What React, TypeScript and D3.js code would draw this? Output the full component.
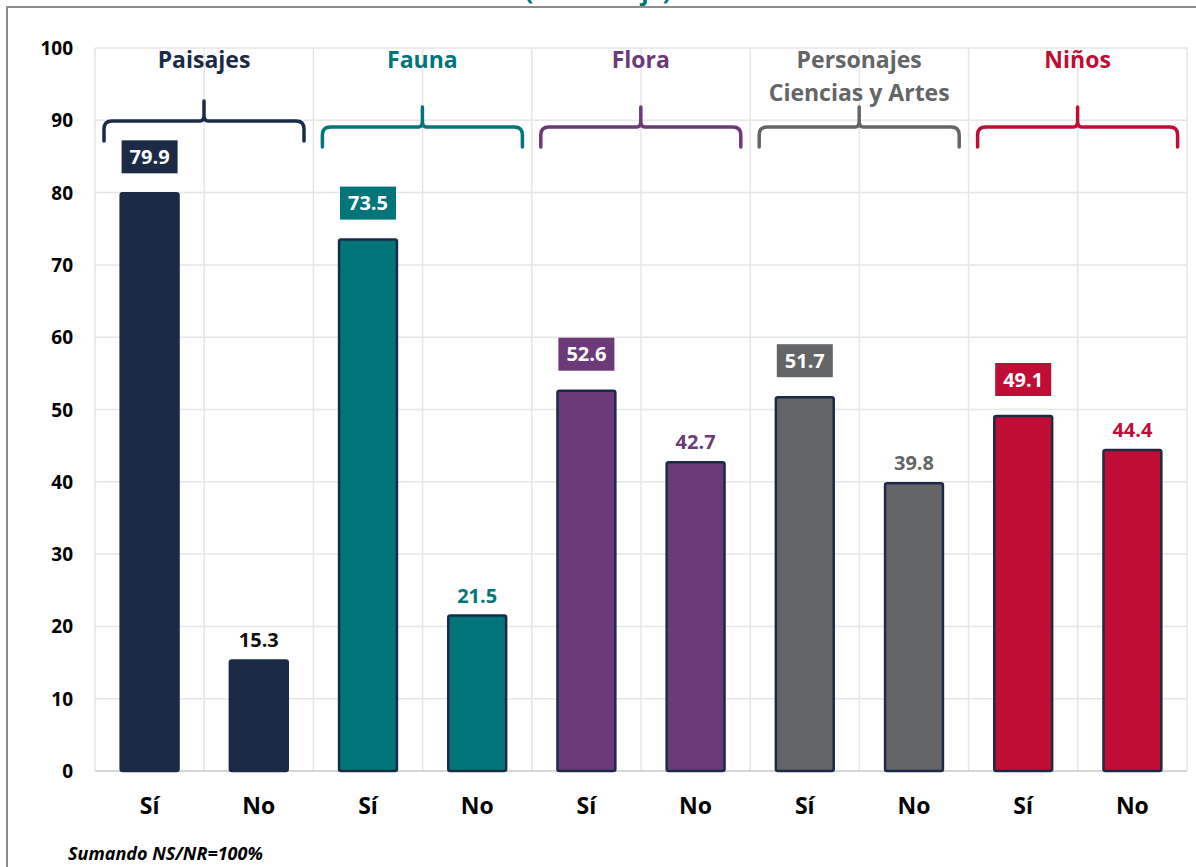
import { useEffect, useRef } from 'react';
import * as d3 from 'd3';

// datos
const groups = ['Paisajes', 'Fauna', 'Flora', 'Personajes Ciencias y Artes', 'Niños'];
const groupLines = [['Paisajes'], ['Fauna'], ['Flora'], ['Personajes', 'Ciencias y Artes'], ['Niños']];
const answers = ['Sí', 'No'];
const siValues = [79.9, 73.5, 52.6, 51.7, 49.1];
const noValues = [15.3, 21.5, 42.7, 39.8, 44.4];
const groupColors = ['#1B2B47', '#00757A', '#6C3A78', '#646567', '#C00D36'];
const yTicks = [0, 10, 20, 30, 40, 50, 60, 70, 80, 90, 100];

const FONT = '"Open Sans", "Noto Sans", sans-serif';

const App = () => {
  const svgRef = useRef<SVGSVGElement | null>(null);

  useEffect(() => {
    document.body.style.margin = '0';
    const width = 1196;
    const height = 867;
    const margin = { top: 48, right: 9, bottom: 96, left: 95 };

    const svg = d3.select(svgRef.current);
    svg.selectAll('*').remove();
    svg.attr('width', width).attr('height', height);

    svg.append('rect').attr('width', width).attr('height', height).attr('fill', '#fff');

    // marco
    svg.append('path')
      .attr('d', `M7,${height + 5} L7,7 L${width + 5},7`)
      .attr('fill', 'none')
      .attr('stroke', '#8c8c8c')
      .attr('stroke-width', 2);

    // titulo (cortado arriba como en el original)
    svg.append('text')
      .attr('x', 598)
      .attr('y', 0)
      .attr('text-anchor', 'middle')
      .attr('font-family', FONT)
      .attr('font-weight', 700)
      .attr('font-size', 24)
      .attr('fill', '#00757A')
      .text('(Porcentaje)');

    const x0 = d3.scaleBand<string>()
      .domain(groups)
      .range([margin.left, width - margin.right])
      .padding(0);

    const x1 = d3.scaleBand<string>()
      .domain(answers)
      .range([0, x0.bandwidth()])
      .paddingInner(0.47)
      .paddingOuter(0.235);

    const y = d3.scaleLinear()
      .domain([0, 100])
      .range([height - margin.bottom, margin.top]);

    const step = x1.step();
    const plotLeft = margin.left;
    const plotRight = width - margin.right;

    // rejilla
    const grid = svg.append('g');
    grid.selectAll('line.h')
      .data(yTicks.slice(1))
      .enter()
      .append('line')
      .attr('x1', plotLeft)
      .attr('x2', plotRight)
      .attr('y1', d => y(d))
      .attr('y2', d => y(d))
      .attr('stroke', '#e6e6e6')
      .attr('stroke-width', 1.5);

    const vLines = d3.range(0, groups.length * answers.length + 1).map(i => plotLeft + i * step);
    grid.selectAll('line.v')
      .data(vLines)
      .enter()
      .append('line')
      .attr('x1', d => d)
      .attr('x2', d => d)
      .attr('y1', y(100))
      .attr('y2', y(0))
      .attr('stroke', '#e6e6e6')
      .attr('stroke-width', 1.5);

    // eje x
    svg.append('line')
      .attr('x1', plotLeft)
      .attr('x2', plotRight)
      .attr('y1', y(0))
      .attr('y2', y(0))
      .attr('stroke', '#c8c8c8')
      .attr('stroke-width', 1.5);

    // etiquetas eje y
    svg.append('g')
      .selectAll('text')
      .data(yTicks)
      .enter()
      .append('text')
      .attr('x', 73)
      .attr('y', d => y(d) + 7)
      .attr('text-anchor', 'end')
      .attr('font-family', FONT)
      .attr('font-weight', 700)
      .attr('font-size', 19)
      .attr('fill', '#000')
      .text(d => d);

    groups.forEach((g, gi) => {
      const color = groupColors[gi];
      const gx = x0(g) as number;
      const vals = [siValues[gi], noValues[gi]];

      answers.forEach((a, ai) => {
        const v = vals[ai];
        const bx = gx + (x1(a) as number);
        const bw = x1.bandwidth();
        const cx = bx + bw / 2;

        svg.append('rect')
          .attr('x', bx)
          .attr('y', y(v))
          .attr('width', bw)
          .attr('height', y(0) - y(v))
          .attr('rx', 2)
          .attr('fill', color)
          .attr('stroke', '#1B2B47')
          .attr('stroke-width', 2.5);

        if (ai === 0) {
          const boxH = 33;
          const boxW = 56;
          const boxBottom = y(v) - 20;
          svg.append('rect')
            .attr('x', cx - boxW / 2)
            .attr('y', boxBottom - boxH)
            .attr('width', boxW)
            .attr('height', boxH)
            .attr('fill', color);
          svg.append('text')
            .attr('x', cx)
            .attr('y', boxBottom - boxH / 2 + 7)
            .attr('text-anchor', 'middle')
            .attr('font-family', FONT)
            .attr('font-weight', 700)
            .attr('font-size', 20)
            .attr('fill', '#fff')
            .text(v.toFixed(1));
        } else {
          svg.append('text')
            .attr('x', cx)
            .attr('y', y(v) - 13)
            .attr('text-anchor', 'middle')
            .attr('font-family', FONT)
            .attr('font-weight', 700)
            .attr('font-size', 20)
            .attr('fill', gi === 0 ? '#111' : color)
            .text(v.toFixed(1));
        }

        // etiqueta categoria
        svg.append('text')
          .attr('x', cx)
          .attr('y', 814)
          .attr('text-anchor', 'middle')
          .attr('font-family', FONT)
          .attr('font-weight', 700)
          .attr('font-size', 23)
          .attr('fill', '#000')
          .text(a);
      });

      // llave
      const by = gi === 0 ? 121 : 127;
      const left = gx + 9;
      const right = gx + 209;
      const mid = gx + 109;
      const r = 8;
      svg.append('path')
        .attr('d', `M${left},${by + 20} L${left},${by + r} Q${left},${by} ${left + r},${by} L${mid - 4},${by} Q${mid},${by} ${mid},${by - 6} L${mid},${by - 20} L${mid},${by - 6} Q${mid},${by} ${mid + 4},${by} L${right - r},${by} Q${right},${by} ${right},${by + r} L${right},${by + 20}`)
        .attr('fill', 'none')
        .attr('stroke', color)
        .attr('stroke-width', 3.5)
        .attr('stroke-linecap', 'round')
        .attr('stroke-linejoin', 'round');

      // titulo de grupo
      groupLines[gi].forEach((line, li) => {
        svg.append('text')
          .attr('x', gx + 109)
          .attr('y', 68 + li * 33)
          .attr('text-anchor', 'middle')
          .attr('font-family', FONT)
          .attr('font-weight', 700)
          .attr('font-size', 23)
          .attr('fill', color)
          .text(line);
      });
    });

    // nota
    svg.append('text')
      .attr('x', 68)
      .attr('y', 860)
      .attr('font-family', FONT)
      .attr('font-weight', 700)
      .attr('font-style', 'italic')
      .attr('font-size', 18)
      .attr('fill', '#000')
      .text('Sumando NS/NR=100%');
  }, []);

  return <svg ref={svgRef} style={{ display: 'block' }} />;
};

export default App;
